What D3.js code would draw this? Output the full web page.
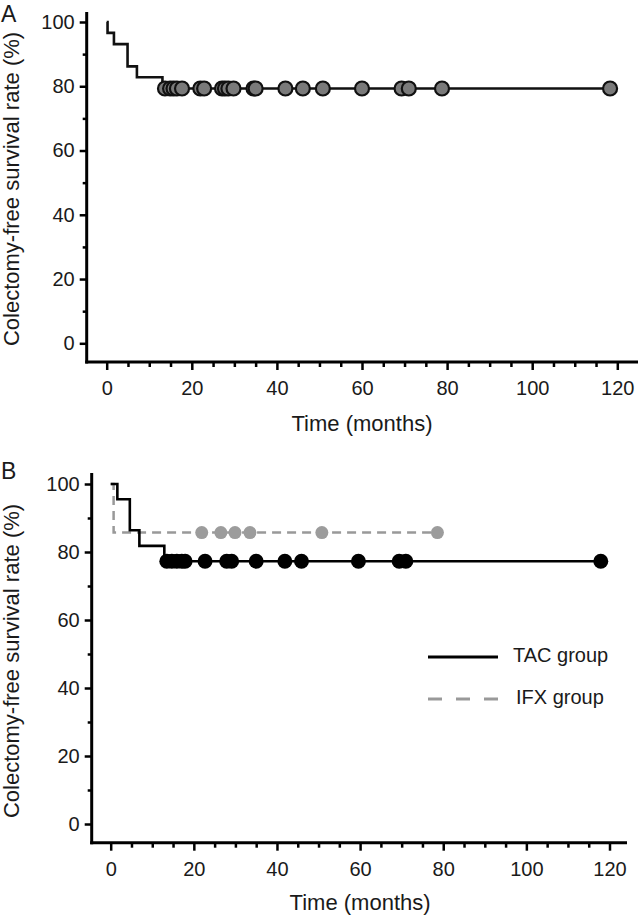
<!DOCTYPE html>
<html>
<head>
<meta charset="utf-8">
<script src="https://cdn.jsdelivr.net/npm/d3@7"></script>
<style>
  html, body { margin: 0; padding: 0; background: #fff; }
  svg { display: block; font-family: "Liberation Sans", Arial, Helvetica, sans-serif; }
</style>
</head>
<body>
<svg id="chart" width="638" height="919"></svg>
<script>
// ---------------- DATA ----------------
const xMajorTicks = [0, 20, 40, 60, 80, 100, 120];
const xMinorTicks = [5, 10, 15, 25, 30, 35, 45, 50, 55, 65, 70, 75, 85, 90, 95, 105, 110, 115, 125];
const yMajorTicks = [0, 20, 40, 60, 80, 100];
const yMinorTicks = [10, 30, 50, 70, 90];

// Panel A: all patients (step points: time, survival %)
const aStepTimes = [0, 0.2, 1.7, 4.9, 7.1, 13.1, 118.3];
const aStepSurv  = [100, 96.6, 93.1, 86.2, 82.8, 79.3, 79.3];
const aCensorTimes = [13.7, 14.9, 15.7, 16.5, 17.7, 22.0, 22.9, 27.1, 27.8, 28.6, 29.8,
                      34.5, 35.0, 42.0, 46.1, 50.8, 60.0, 69.3, 71.0, 78.8, 118.3];

// Panel B: TAC group
const tacStepTimes = [0, 1.6, 4.6, 6.9, 12.9, 117.9];
const tacStepSurv  = [100, 95.5, 86.4, 81.8, 77.3, 77.3];
const tacCensorTimes = [13.5, 14.7, 15.9, 17.1, 17.9, 22.7, 27.9, 29.1, 35.0, 41.9,
                        45.9, 59.6, 69.4, 71.0, 117.9];

// Panel B: IFX group
const ifxStepTimes = [0, 0.7, 78.6];
const ifxStepSurv  = [100, 85.7, 85.7];
const ifxCensorTimes = [21.9, 26.5, 29.9, 33.5, 50.8, 78.6];

const seriesNames = ["TAC group", "IFX group"];
const yTitle = "Colectomy-free survival rate (%)";
const xTitle = "Time (months)";

// ---------------- DRAW ----------------
const svg = d3.select("#chart");
const FONT = 20;
const TITLE_FONT = 22;

function survAt(times, surv, t) {
  let s = surv[0];
  for (let i = 0; i < times.length; i++) { if (times[i] <= t) s = surv[i]; }
  return s;
}

function drawPanel(g, L, label) {
  const x = d3.scaleLinear().domain([0, 120]).range([L.x0, L.x1]);
  const y = d3.scaleLinear().domain([0, 100]).range([L.y0, L.y100]);

  // axis lines
  g.append("line").attr("x1", L.axisX).attr("x2", L.axisX)
    .attr("y1", L.yTop).attr("y2", L.axisY + 1.5)
    .attr("stroke", "#000").attr("stroke-width", 3);
  g.append("line").attr("x1", L.axisX - 1.5).attr("x2", L.xRight)
    .attr("y1", L.axisY).attr("y2", L.axisY)
    .attr("stroke", "#000").attr("stroke-width", 3);

  // y axis ticks
  const yAx = g.append("g").attr("transform", `translate(${L.axisX},0)`)
    .call(d3.axisLeft(y).tickValues(yMajorTicks).tickSize(7).tickPadding(5));
  const yAxMinor = g.append("g").attr("transform", `translate(${L.axisX},0)`)
    .call(d3.axisLeft(y).tickValues(yMinorTicks).tickSize(4).tickFormat(""));
  // x axis ticks
  const xAx = g.append("g").attr("transform", `translate(0,${L.axisY})`)
    .call(d3.axisBottom(x).tickValues(xMajorTicks).tickSize(8).tickPadding(11));
  const xAxMinor = g.append("g").attr("transform", `translate(0,${L.axisY})`)
    .call(d3.axisBottom(x).tickValues(xMinorTicks.filter(v => x(v) < L.xRight)).tickSize(5).tickFormat(""));

  [yAx, yAxMinor, xAx, xAxMinor].forEach(a => {
    a.select(".domain").remove();
    a.selectAll(".tick line").attr("stroke", "#000").attr("stroke-width", 2.5);
    a.selectAll("text").attr("fill", "#1a1a1a").style("font-size", FONT + "px")
      .style("font-family", "'Liberation Sans', Arial, sans-serif");
  });

  // titles
  g.append("text").attr("transform", `translate(${L.titleX},${L.titleY}) rotate(-90)`)
    .attr("text-anchor", "middle").attr("dominant-baseline", "middle")
    .style("font-size", TITLE_FONT + "px").attr("fill", "#1a1a1a").text(yTitle);
  g.append("text").attr("x", (L.x0 + L.x1) / 2).attr("y", L.xTitleY)
    .attr("text-anchor", "middle").attr("dominant-baseline", "middle")
    .style("font-size", TITLE_FONT + "px").attr("fill", "#1a1a1a").text(xTitle);
  g.append("text").attr("x", 1).attr("y", L.labelY)
    .style("font-size", "23px").attr("fill", "#1a1a1a").text(label);

  return { x, y };
}

const LA = { x0: 106.7, x1: 617.3, y100: 22, y0: 343.3, axisX: 86.7, axisY: 362, yTop: 12, xRight: 638,
             titleX: 13, titleY: 189, xTitleY: 425, labelY: 22 };
const LB = { x0: 110.7, x1: 609.5, y100: 484, y0: 824, axisX: 91.7, axisY: 842.7, yTop: 473, xRight: 627,
             titleX: 13, titleY: 661, xTitleY: 904, labelY: 479 };

// ----- Panel A -----
const gA = svg.append("g");
const sA = drawPanel(gA, LA, "A");
const stepLineA = d3.line().x(d => sA.x(d[0])).y(d => sA.y(d[1])).curve(d3.curveStepAfter);
gA.append("path").datum(aStepTimes.map((t, i) => [t, aStepSurv[i]]))
  .attr("d", stepLineA).attr("fill", "none").attr("stroke", "#111").attr("stroke-width", 2.6);
gA.selectAll("circle.cA").data(aCensorTimes).join("circle").attr("class", "cA")
  .attr("cx", d => sA.x(d)).attr("cy", d => sA.y(survAt(aStepTimes, aStepSurv, d)))
  .attr("r", 7).attr("fill", "#7a7a7a").attr("stroke", "#111").attr("stroke-width", 2.2);

// ----- Panel B -----
const gB = svg.append("g");
const sB = drawPanel(gB, LB, "B");
const stepLineB = d3.line().x(d => sB.x(d[0])).y(d => sB.y(d[1])).curve(d3.curveStepAfter);
gB.append("path").datum(ifxStepTimes.map((t, i) => [t, ifxStepSurv[i]]))
  .attr("d", stepLineB).attr("fill", "none").attr("stroke", "#999").attr("stroke-width", 2.5)
  .attr("stroke-dasharray", "9,6");
gB.selectAll("circle.cI").data(ifxCensorTimes).join("circle").attr("class", "cI")
  .attr("cx", d => sB.x(d)).attr("cy", d => sB.y(survAt(ifxStepTimes, ifxStepSurv, d)))
  .attr("r", 6.5).attr("fill", "#9c9c9c");
gB.append("path").datum(tacStepTimes.map((t, i) => [t, tacStepSurv[i]]))
  .attr("d", stepLineB).attr("fill", "none").attr("stroke", "#000").attr("stroke-width", 2.6);
gB.selectAll("circle.cT").data(tacCensorTimes).join("circle").attr("class", "cT")
  .attr("cx", d => sB.x(d)).attr("cy", d => sB.y(survAt(tacStepTimes, tacStepSurv, d)))
  .attr("r", 7.5).attr("fill", "#000");

// legend
const legend = gB.append("g");
const legendRows = [
  { name: seriesNames[0], color: "#000", dash: null, y: 657, tx: 513 },
  { name: seriesNames[1], color: "#999", dash: "14,14", y: 699, tx: 516 }
];
legendRows.forEach(r => {
  legend.append("line").attr("x1", 428).attr("x2", 498).attr("y1", r.y).attr("y2", r.y)
    .attr("stroke", r.color).attr("stroke-width", 3).attr("stroke-dasharray", r.dash);
  legend.append("text").attr("x", r.tx).attr("y", r.y).attr("dominant-baseline", "middle")
    .style("font-size", FONT + "px").attr("fill", "#1a1a1a").text(r.name);
});
</script>
</body>
</html>
